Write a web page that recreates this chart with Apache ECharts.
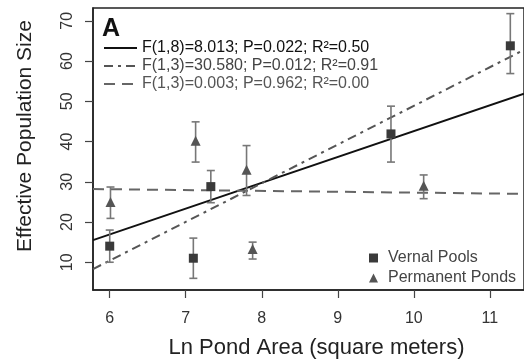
<!DOCTYPE html>
<html><head><meta charset="utf-8">
<script src="https://cdn.jsdelivr.net/npm/echarts@6/dist/echarts.min.js"></script>
<style>html,body{margin:0;padding:0;background:#fff}#c{width:524px;height:364px}</style>
</head><body><div id="c"></div>
<script>
// Vernal pools (squares)
const vernalX  = [6.00, 7.10, 7.33, 9.70, 11.27];
const vernalY  = [14.0, 11.0, 28.8, 41.9, 63.8];
const vernalLo = [10.0, 6.0, 24.8, 34.9, 56.9];
const vernalHi = [18.0, 16.0, 32.8, 48.8, 71.8];
// Permanent ponds (triangles)
const pondX  = [6.01, 7.13, 7.80, 7.88, 10.13];
const pondY  = [25.0, 40.2, 33.0, 13.3, 29.0];
const pondLo = [20.9, 34.9, 26.6, 10.8, 25.8];
const pondHi = [28.7, 44.9, 39.0, 15.0, 31.7];
// Regression lines (endpoints at axis limits)
const fitX      = [5.78, 11.45];
const fitAll    = [15.5, 51.9];
const fitVernal = [8.3, 62.8];
const fitPond   = [28.2, 27.0];
const fitNames = [
  'F(1,8)=8.013; P=0.022; R\u00b2=0.50',
  'F(1,3)=30.580; P=0.012; R\u00b2=0.91',
  'F(1,3)=0.003; P=0.962; R\u00b2=0.00'
];
const xTicks = [6, 7, 8, 9, 10, 11];
const yTicks = [10, 20, 30, 40, 50, 60, 70];

const FONT = 'Liberation Sans, Arial, sans-serif';
const chart = echarts.init(document.getElementById('c'), null, {renderer: 'canvas'});

function pairs(xs, ys) { return xs.map((x, i) => [x, ys[i]]); }
function errData(xs, lo, hi) { return xs.map((x, i) => [x, lo[i], hi[i]]); }
function errRender(params, api) {
  const x = api.value(0);
  const p1 = api.coord([x, api.value(1)]);
  const p2 = api.coord([x, api.value(2)]);
  const w = 4;
  const st = {stroke: '#777', lineWidth: 1.6};
  return {type: 'group', children: [
    {type: 'line', shape: {x1: p1[0], y1: p1[1], x2: p2[0], y2: p2[1]}, style: st},
    {type: 'line', shape: {x1: p1[0]-w, y1: p1[1], x2: p1[0]+w, y2: p1[1]}, style: st},
    {type: 'line', shape: {x1: p2[0]-w, y1: p2[1], x2: p2[0]+w, y2: p2[1]}, style: st}
  ]};
}

chart.setOption({
  animation: false,
  backgroundColor: '#fff',
  textStyle: {fontFamily: FONT},
  title: {text: 'A', left: 97, top: 12, textStyle: {fontFamily: FONT, fontSize: 25, fontWeight: 'bold', color: '#111'}},
  grid: {left: 93, right: -2, top: 8, bottom: 72, show: true, borderColor: '#222', borderWidth: 1.5, backgroundColor: 'transparent'},
  legend: [
    {
      data: [
        {name: fitNames[0], textStyle: {color: '#111'}},
        {name: fitNames[1], textStyle: {color: '#444'}},
        {name: fitNames[2], textStyle: {color: '#555'}}
      ],
      orient: 'vertical', left: 98, top: 35,
      itemWidth: 33, itemHeight: 14, itemGap: 2,
      itemStyle: {opacity: 0},
      textStyle: {fontFamily: FONT, fontSize: 16, color: '#333'},
      selectedMode: false
    },
    {
      data: ['Vernal Pools', 'Permanent Ponds'], orient: 'vertical', left: 364, top: 245,
      itemWidth: 9, itemHeight: 9, itemGap: 4,
      textStyle: {fontFamily: FONT, fontSize: 16, color: '#444', padding: [0, 0, 0, 5]},
      selectedMode: false
    }
  ],
  xAxis: {
    type: 'value', min: 5.78, max: 11.45,
    name: 'Ln Pond Area (square meters)', nameLocation: 'middle', nameGap: 47,
    nameTextStyle: {fontFamily: FONT, fontSize: 22, color: '#222', padding: [0, 0, 0, 16]},
    axisLine: {show: true, lineStyle: {color: '#222', width: 1.5}},
    axisTick: {show: true, length: 8, customValues: xTicks, lineStyle: {color: '#444', width: 1.2}},
    axisLabel: {customValues: xTicks, margin: 21, fontSize: 16, color: '#333', fontFamily: FONT},
    splitLine: {show: false}
  },
  yAxis: {
    type: 'value', min: 3.1, max: 73.2,
    name: 'Effective Population Size', nameLocation: 'middle', nameGap: 57,
    nameTextStyle: {fontFamily: FONT, fontSize: 21, color: '#222', padding: [0, 0, 0, 26]},
    axisLine: {show: true, lineStyle: {color: '#222', width: 1.5}},
    axisTick: {show: true, length: 8, customValues: yTicks, lineStyle: {color: '#444', width: 1.2}},
    axisLabel: {customValues: yTicks, rotate: 90, margin: 17, fontSize: 16, color: '#333', fontFamily: FONT},
    splitLine: {show: false}
  },
  series: [
    {name: fitNames[0], type: 'line', data: pairs(fitX, fitAll), symbol: 'none',
     lineStyle: {color: '#111', width: 2, type: 'solid'}, itemStyle: {color: '#111'}, z: 3},
    {name: fitNames[1], type: 'line', data: pairs(fitX, fitVernal), symbol: 'none',
     lineStyle: {color: '#555', width: 2, type: [9, 5, 3, 5]}, itemStyle: {color: '#555'}, z: 3},
    {name: fitNames[2], type: 'line', data: pairs(fitX, fitPond), symbol: 'none',
     lineStyle: {color: '#666', width: 2, type: [11, 7]}, itemStyle: {color: '#666'}, z: 3},
    {name: 'errV', type: 'custom', renderItem: errRender, data: errData(vernalX, vernalLo, vernalHi), z: 4},
    {name: 'errP', type: 'custom', renderItem: errRender, data: errData(pondX, pondLo, pondHi), z: 4},
    {name: 'Vernal Pools', type: 'scatter', data: pairs(vernalX, vernalY), symbol: 'rect', symbolSize: 9,
     itemStyle: {color: '#3a3a3a', opacity: 1}, z: 5},
    {name: 'Permanent Ponds', type: 'scatter', data: pairs(pondX, pondY), symbol: 'triangle', symbolSize: 10,
     itemStyle: {color: '#555', opacity: 1}, z: 5}
  ]
});
</script></body></html>
